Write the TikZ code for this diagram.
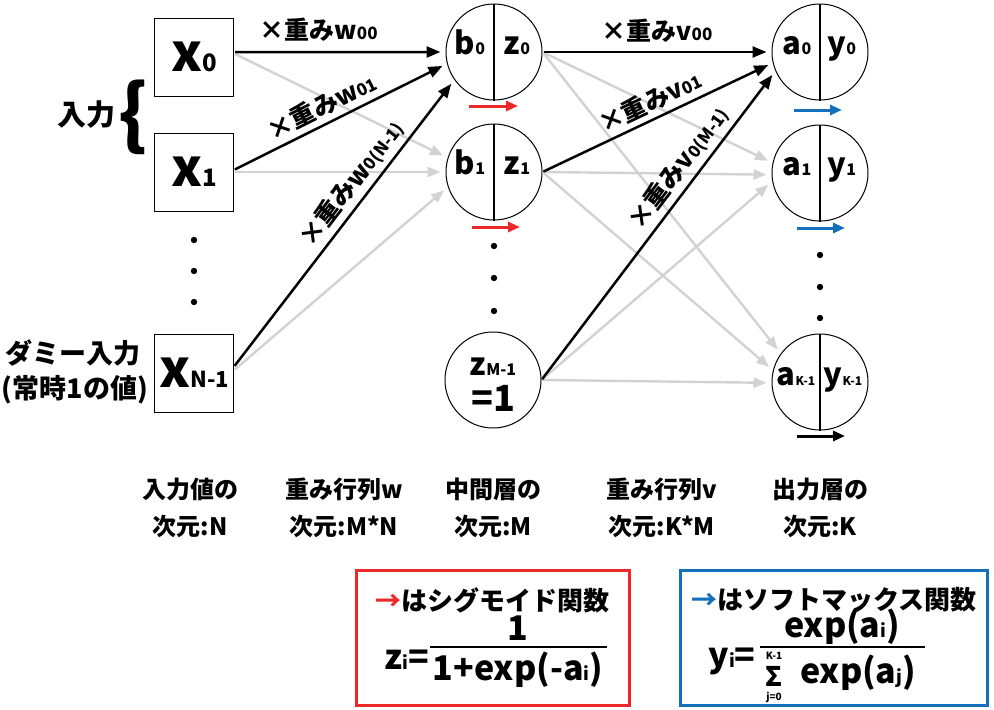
\documentclass[tikz,border=0pt]{standalone}
\usepackage{fontspec}
\setmainfont{Noto Sans CJK JP}
\usetikzlibrary{arrows.meta}

\definecolor{edgegray}{RGB}{210,210,210}
\definecolor{sigred}{RGB}{236,40,40}
\definecolor{softblue}{RGB}{20,112,186}

\newcommand{\fs}[1]{\fontsize{#1}{#1}\selectfont\bfseries}
\newcommand{\wlab}[2]{\fs{25}×重み#1{\fs{17}#2}}
\newcommand{\var}[3]{\fs{#3}#1{\fs{16}#2}}

\begin{document}
\begin{tikzpicture}[x=1pt,y=-1pt,
    inbox/.style={draw,line width=1pt,minimum width=79pt,minimum height=78pt,inner sep=0pt},
    unit/.style={draw,circle,line width=1pt,minimum size=96pt,inner sep=0pt},
    divider/.style={line width=2.6pt},
    blackarr/.style={line width=2.5pt,-{Triangle[length=14pt,width=11pt]},shorten >=5pt,shorten <=1pt},
    grayarr/.style={edgegray,line width=2.4pt,-{Triangle[length=13pt,width=10pt]},shorten >=5pt,shorten <=1pt},
    actarr/.style={line width=3pt,-{Triangle[length=12pt,width=10pt]}},
    wlabel/.style={sloped,above=#1,inner sep=2pt},
    wlabel/.default=3pt,
    dimlabel/.style={align=center,font=\fontsize{24}{37}\selectfont\bfseries}]
    \useasboundingbox (0,0) rectangle (994,710);

    % input layer
    \node[inbox] (x0) at (194,57) {\fs{52}x{\fs{24}0}};
    \node[inbox] (x1) at (194,172) {\fs{52}x{\fs{24}1}};
    \node[inbox] (xN) at (194,373) {\fs{52}x{\fs{22}N-1}};
    \fill (194,240) circle (3.2pt);
    \fill (194,271) circle (3.2pt);
    \fill (194,302) circle (3.2pt);

    \node (inlabel) at (86,115) {\fs{29}入力};
    \node (brace) at (134,117) {\fs{76}\{};
    \node (dummy) at (73,353) {\fs{27}ダミー入力};
    \node (dummy2) at (75,390) {\fs{27}(常時1の値)};

    % hidden layer
    \node[unit] (h0) at (494,52) {};
    \draw[divider] (h0.north) -- (h0.south);
    \node[anchor=base] (b0) at (470,54) {\var{b}{0}{31}};
    \node[anchor=base] (z0) at (517,54) {\var{z}{0}{31}};
    \node[unit] (h1) at (494,172) {};
    \draw[divider] (h1.north) -- (h1.south);
    \node[anchor=base] (b1) at (470,174) {\var{b}{1}{31}};
    \node[anchor=base] (z1) at (517,174) {\var{z}{1}{31}};
    \fill (494,246) circle (3.2pt);
    \fill (494,278) circle (3.2pt);
    \fill (494,311) circle (3.2pt);
    \node[unit] (hM) at (493,380) {};
    \node[anchor=base] (zM) at (493,375) {\var{z}{M-1}{31}};
    \node[anchor=base] (one) at (493,411) {\fs{36}=1};

    % output layer
    \node[unit] (o0) at (820,52) {};
    \draw[divider] (o0.north) -- (o0.south);
    \node[anchor=base] (a0) at (797,54) {\var{a}{0}{31}};
    \node[anchor=base] (y0) at (842,54) {\var{y}{0}{31}};
    \node[unit] (o1) at (820,173) {};
    \draw[divider] (o1.north) -- (o1.south);
    \node[anchor=base] (a1) at (797,175) {\var{a}{1}{31}};
    \node[anchor=base] (y1) at (842,175) {\var{y}{1}{31}};
    \fill (820,255) circle (3.2pt);
    \fill (820,287) circle (3.2pt);
    \fill (820,318) circle (3.2pt);
    \node[unit] (oK) at (820,382) {};
    \draw[divider] (oK.north) -- (oK.south);
    \node[anchor=base] (aK) at (796,385) {\fs{31}a{\fs{12}K-1}};
    \node[anchor=base] (yK) at (843,385) {\fs{31}y{\fs{12}K-1}};

    % activation arrows
    \draw[actarr,sigred] (469,106) -- (518,106);
    \draw[actarr,sigred] (472,227) -- (520,227);
    \draw[actarr,softblue] (794,110) -- (842,110);
    \draw[actarr,softblue] (797,228) -- (845,228);
    \draw[actarr] (797,436) -- (845,436);

    % weights w
    \draw[grayarr] (x0.5) -- (h1.163);
    \draw[grayarr] (x1.east) -- (h1.180);
    \draw[grayarr] (xN.4) -- (h1.198);
    \draw[blackarr] (x0.7) -- (h0.180) node[wlabel=7pt,pos=0.4] {\wlab{w}{00}};
    \draw[blackarr] (x1.3) -- (h0.194) node[wlabel,pos=0.45] {\wlab{w}{01}};
    \draw[blackarr] (xN.9) -- (h0.215) node[wlabel,pos=0.6] {\wlab{w}{0(N-1)}};

    % weights v
    \draw[grayarr] (h0.east) -- (o1.168);
    \draw[grayarr] (h0.east) -- (oK.144);
    \draw[grayarr] (h1.east) -- (o1.182);
    \draw[grayarr] (h1.east) -- (oK.166);
    \draw[grayarr] (hM.east) -- (o1.190);
    \draw[grayarr] (hM.east) -- (oK.181);
    \draw[blackarr] (h0.east) -- (o0.180) node[wlabel=6pt,pos=0.5] {\wlab{v}{00}};
    \draw[blackarr] (h1.east) -- (o0.193) node[wlabel,pos=0.5] {\wlab{v}{01}};
    \draw[blackarr] (hM.east) -- (o0.203) node[wlabel,pos=0.65] {\wlab{v}{0(M-1)}};

    % dimensions
    \node[dimlabel] (dimx) at (190,508) {入力値の\\次元:N};
    \node[dimlabel] (dimw) at (344,508) {重み行列w\\次元:M*N};
    \node[dimlabel] (dimh) at (493,508) {中間層の\\次元:M};
    \node[dimlabel] (dimv) at (662,508) {重み行列v\\次元:K*M};
    \node[dimlabel] (dimo) at (820,508) {出力層の\\次元:K};

    % sigmoid box
    \draw[sigred,line width=3pt] (356,570) rectangle (629,705);
    \node (sigtitle) at (492,600) {\fs{26}{\color{sigred}→}はシグモイド関数};
    \node[anchor=base] (zi) at (407,669) {\fs{34}z{\fs{18}i}=};
    \node[anchor=base] (signum) at (518,640) {\fs{34}1};
    \draw[line width=2.5pt] (430,647) -- (607,647);
    \node[anchor=base] (sigden) at (518,680) {\fs{34}1+exp(-a{\fs{18}i})};

    % softmax box
    \draw[softblue,line width=3pt] (680,570) rectangle (987,705);
    \node (softtitle) at (834,600) {\fs{26}{\color{softblue}→}はソフトマックス関数};
    \node[anchor=base] (yi) at (732,667) {\fs{34}y{\fs{18}i}=};
    \node[anchor=base] (softnum) at (842,637) {\fs{34}exp(a{\fs{18}i})};
    \draw[line width=2.5pt] (760,647) -- (925,647);
    \node (sigma) at (774,676) {\fs{27}Σ};
    \node (sigtop) at (774,656) {\fs{10}K-1};
    \node (sigbot) at (774,697) {\fs{10}j=0};
    \node[anchor=base] (softden) at (858,683) {\fs{34}exp(a{\fs{18}j})};
\end{tikzpicture}
\end{document}
